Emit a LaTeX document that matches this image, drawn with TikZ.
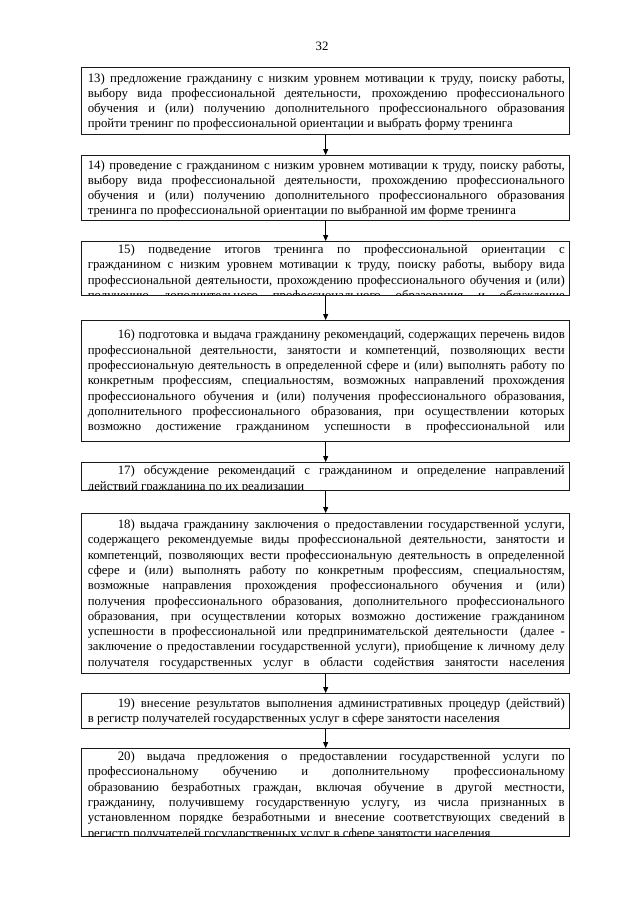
\documentclass[tikz,border=0pt]{standalone}
\usepackage{fontspec}
\setmainfont{Liberation Serif}
\usepackage{tikz}
\usetikzlibrary{arrows.meta}
\newlength{\stagew}
\setlength{\stagew}{477pt}
\newcommand{\fl}[1]{\makebox[\stagew][s]{\spaceskip=0pt \xspaceskip=0pt #1}}
\newcommand{\ind}{\hspace*{30pt}}
\tikzset{
  stage/.style={draw=black!90, line width=1.3pt, minimum width=488pt, inner sep=0pt,
                anchor=north west},
  stagetext/.style={anchor=north west, inner xsep=5pt, inner ysep=2.5pt, text width=\stagew,
                    align=justify, font=\fontsize{12.8pt}{15.3pt}\selectfont},
  flow/.style={-{Triangle[length=6pt,width=5pt]}, line width=0.8pt},
  pnum/.style={font=\fontsize{12.8pt}{15.3pt}\selectfont}
}
\newcommand{\stagebox}[4]{%
  \node[stage, minimum height=#3pt,
        path picture={\node[stagetext] at (path picture bounding box.north west) {#4};}]
        (#1) at (81,#2) {};}

\begin{document}
\begin{tikzpicture}[x=1pt, y=-1pt]
\useasboundingbox[fill=white] (0,0) rectangle (640,905);
\node[pnum] (page) at (322,46) {32};

\stagebox{s13}{67}{67}{%
  \fl{13) предложение гражданину с низким уровнем мотивации к труду, поиску работы,}\\
  \fl{выбору вида профессиональной деятельности, прохождению профессионального}\\
  \fl{обучения и (или) получению дополнительного профессионального образования}\\
  пройти тренинг по профессиональной ориентации и выбрать форму тренинга}
\stagebox{s14}{155}{65}{%
  \fl{14) проведение с гражданином с низким уровнем мотивации к труду, поиску работы,}\\
  \fl{выбору вида профессиональной деятельности, прохождению профессионального}\\
  \fl{обучения и (или) получению дополнительного профессионального образования}\\
  тренинга по профессиональной ориентации по выбранной им форме тренинга}
\stagebox{s15}{241}{54}{%
  \fl{\ind 15) подведение итогов тренинга по профессиональной ориентации с}\\
  \fl{гражданином с низким уровнем мотивации к труду, поиску работы, выбору вида}\\
  \fl{профессиональной деятельности, прохождению профессионального обучения и (или)}\\
  \fl{получению дополнительного профессионального образования и обсуждение}}
\stagebox{s16}{320}{121}{%
  \fl{\ind 16) подготовка и выдача гражданину рекомендаций, содержащих перечень видов}\\
  \fl{профессиональной деятельности, занятости и компетенций, позволяющих вести}\\
  \fl{профессиональную деятельность в определенной сфере и (или) выполнять работу по}\\
  \fl{конкретным профессиям, специальностям, возможных направлений прохождения}\\
  \fl{профессионального обучения и (или) получения профессионального образования,}\\
  \fl{дополнительного профессионального образования, при осуществлении которых}\\
  \fl{возможно достижение гражданином успешности в профессиональной или}}
\stagebox{s17}{462}{28}{%
  \fl{\ind 17) обсуждение рекомендаций с гражданином и определение направлений}\\
  действий гражданина по их реализации}
\stagebox{s18}{513}{160}{%
  \fl{\ind 18) выдача гражданину заключения о предоставлении государственной услуги,}\\
  \fl{содержащего рекомендуемые виды профессиональной деятельности, занятости и}\\
  \fl{компетенций, позволяющих вести профессиональную деятельность в определенной}\\
  \fl{сфере и (или) выполнять работу по конкретным профессиям, специальностям,}\\
  \fl{возможные направления прохождения профессионального обучения и (или)}\\
  \fl{получения профессионального образования, дополнительного профессионального}\\
  \fl{образования, при осуществлении которых возможно достижение гражданином}\\
  \fl{успешности в профессиональной или предпринимательской деятельности \ (далее -}\\
  \fl{заключение о предоставлении государственной услуги), приобщение к личному делу}\\
  \fl{получателя государственных услуг в области содействия занятости населения}}
\stagebox{s19}{693}{35}{%
  \fl{\ind 19) внесение результатов выполнения административных процедур (действий)}\\
  в регистр получателей государственных услуг в сфере занятости населения}
\stagebox{s20}{748}{88}{%
  \fl{\ind 20) выдача предложения о предоставлении государственной услуги по}\\
  \fl{профессиональному обучению и дополнительному профессиональному}\\
  \fl{образованию безработных граждан, включая обучение в другой местности,}\\
  \fl{гражданину, получившему государственную услугу, из числа признанных в}\\
  \fl{установленном порядке безработными и внесение соответствующих сведений в}\\
  регистр получателей государственных услуг в сфере занятости населения}

\draw[flow] (s13) -- (s14);
\draw[flow] (s14) -- (s15);
\draw[flow] (s15) -- (s16);
\draw[flow] (s16) -- (s17);
\draw[flow] (s17) -- (s18);
\draw[flow] (s18) -- (s19);
\draw[flow] (s19) -- (s20);
\end{tikzpicture}
\end{document}
